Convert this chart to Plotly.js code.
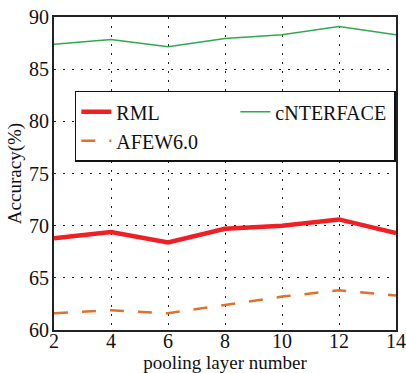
<!DOCTYPE html>
<html><head><meta charset="utf-8">
<script src="https://cdn.plot.ly/plotly-3.0.1.min.js"></script>
<style>html,body{margin:0;padding:0;background:#fff}#chart{width:406px;height:373px}</style>
</head><body><div id="chart"></div>
<script>
var poolingLayers = [2, 4, 6, 8, 10, 12, 14];
var rml = [68.8, 69.4, 68.4, 69.7, 70.0, 70.6, 69.3];
var enterface = [87.4, 87.85, 87.15, 87.95, 88.3, 89.1, 88.3];
var afew = [61.6, 61.9, 61.6, 62.4, 63.2, 63.8, 63.3];
var xTicks = [2, 4, 6, 8, 10, 12, 14];
var yTicks = [60, 65, 70, 75, 80, 85, 90];

var font = {family: 'Liberation Serif, Times New Roman, serif', size: 20, color: '#111'};
var traces = [
  {x: poolingLayers, y: rml, name: 'RML', mode: 'lines', line: {color: '#ee2024', width: 4.5}},
  {x: poolingLayers, y: enterface, name: 'cNTERFACE', mode: 'lines', line: {color: '#2fa84f', width: 1.5}},
  {x: poolingLayers, y: afew, name: 'AFEW6.0', mode: 'lines', line: {color: '#e0702c', width: 2.5, dash: '14px,14px'}}
];
var layout = {
  width: 406, height: 373,
  margin: {l: 54, r: 10, t: 17, b: 43},
  paper_bgcolor: '#fff', plot_bgcolor: '#fff',
  font: font,
  showlegend: true,
  legend: {
    x: 0.061, y: 0.764, xanchor: 'left', yanchor: 'top',
    orientation: 'h', entrywidth: 114, entrywidthmode: 'pixels',
    bordercolor: '#111', borderwidth: 1.5, bgcolor: '#fff',
    font: {family: font.family, size: 20, color: '#111'},
    tracegroupgap: 0
  },
  xaxis: {
    range: [2, 14], tickvals: xTicks, ticktext: xTicks.map(String),
    showgrid: true, gridcolor: '#222', griddash: '1.5px,7.5px', gridwidth: 1,
    zeroline: false, showline: true, linecolor: '#222', linewidth: 2, mirror: true,
    ticks: '', ticklabelstandoff: -8, tickfont: {family: font.family, size: 20, color: '#111'},
    title: {text: 'pooling layer number', font: {family: font.family, size: 19, color: '#111'}, standoff: 6}
  },
  yaxis: {
    range: [60, 90], tickvals: yTicks, ticktext: yTicks.map(String),
    showgrid: true, gridcolor: '#222', griddash: '1.5px,7.5px', gridwidth: 1,
    zeroline: false, showline: true, linecolor: '#222', linewidth: 2, mirror: true,
    ticks: '', ticklabelstandoff: -1, tickfont: {family: font.family, size: 20, color: '#111'},
    title: {text: 'Accuracy(%)', font: {family: font.family, size: 19, color: '#111'}, standoff: 2}
  }
};
Plotly.newPlot('chart', traces, layout, {displayModeBar: false, staticPlot: true});
</script></body></html>
